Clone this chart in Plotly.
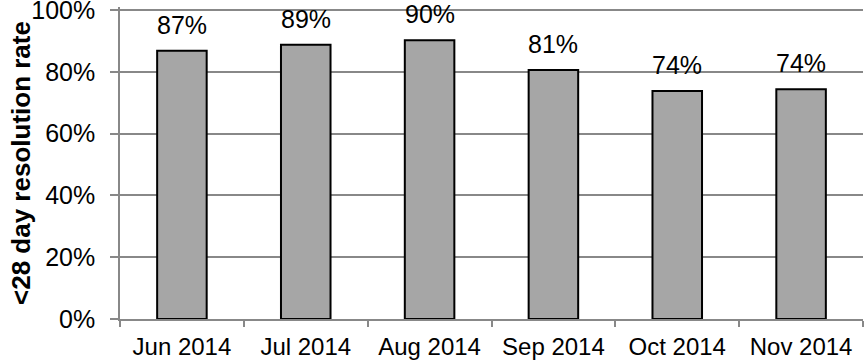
import plotly.graph_objects as go

# Monthly <28 day resolution rate
months = ["Jun 2014", "Jul 2014", "Aug 2014", "Sep 2014", "Oct 2014", "Nov 2014"]
rates = [0.868, 0.888, 0.902, 0.806, 0.738, 0.744]
y_ticks = [0, 0.2, 0.4, 0.6, 0.8, 1.0]
y_tick_labels = ["0%", "20%", "40%", "60%", "80%", "100%"]

FONT = "Liberation Sans, Arial, sans-serif"
AXIS_GRAY = "#888888"
FS_X = 24
FS_Y = 25
FS_LABEL = 25
FS_TITLE = 26

PLOT_W = 865 - 120 - 2

fig = go.Figure(
    go.Bar(
        x=months,
        y=rates,
        marker=dict(color="#A6A6A6", line=dict(color="#000000", width=2)),
        hoverinfo="x+y",
    )
)

# value labels above each bar
for m, r in zip(months, rates):
    fig.add_annotation(
        x=m, y=r, text=f"{r:.0%}", showarrow=False,
        yanchor="bottom", yshift=10,
        font=dict(family=FONT, size=FS_LABEL, color="#000000"),
    )

# rotated y-axis title
fig.add_annotation(
    xref="paper", yref="paper", x=-(120 - 21) / PLOT_W, y=0.5,
    text="<b><28 day resolution rate</b>", textangle=-90, showarrow=False,
    xanchor="center", yanchor="middle",
    font=dict(family=FONT, size=FS_TITLE, color="#000000"),
)

fig.update_layout(
    width=865, height=361,
    margin=dict(l=120, r=2, t=7, b=42, autoexpand=False),
    plot_bgcolor="#FFFFFF", paper_bgcolor="#FFFFFF",
    bargap=0.6,
    showlegend=False,
    font=dict(family=FONT, size=FS_X, color="#000000"),
)

fig.update_xaxes(
    showline=True, linecolor=AXIS_GRAY, linewidth=1.5,
    ticks="outside", tickson="boundaries", ticklen=6, tickcolor=AXIS_GRAY, tickwidth=1.5,
    showgrid=False,
    automargin=False,
    ticklabelstandoff=5,
    tickfont=dict(family=FONT, size=FS_X, color="#000000"),
)

fig.update_yaxes(
    range=[0, 1.01],
    tickvals=y_ticks, ticktext=y_tick_labels,
    showline=True, linecolor=AXIS_GRAY, linewidth=1.5,
    ticks="outside", ticklen=8, tickcolor=AXIS_GRAY, tickwidth=1.5,
    showgrid=True, gridcolor=AXIS_GRAY, gridwidth=1.5,
    zeroline=False,
    automargin=False,
    ticklabelstandoff=10,
    ticklabeloverflow="allow",
    tickfont=dict(family=FONT, size=FS_Y, color="#000000"),
)

fig.write_html("out.html")
